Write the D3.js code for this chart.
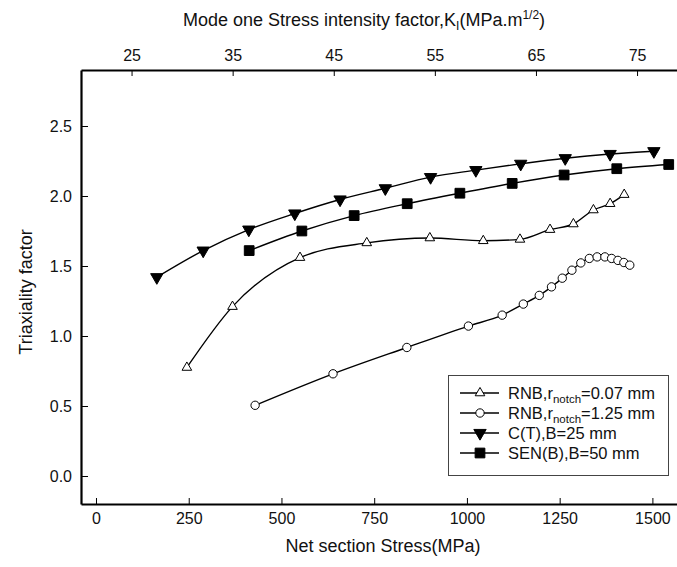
<!DOCTYPE html>
<html><head><meta charset="utf-8">
<script src="https://d3js.org/d3.v7.min.js"></script>
<style>
body{margin:0;background:#fff;}
svg{display:block;font-family:"Liberation Sans",Arial,sans-serif;}
</style></head>
<body>
<svg id="chart" width="677" height="567"></svg>
<script>
// ---- data (x: net section stress MPa, y: triaxiality factor) ----
const ctX  = [164, 289, 412, 536, 658, 780, 902, 1024, 1145, 1265, 1386, 1504];
const ctY  = [1.42, 1.61, 1.76, 1.875, 1.975, 2.055, 2.135, 2.185, 2.23, 2.27, 2.30, 2.32];
const senX = [413, 555, 696, 839, 981, 1122, 1262, 1404, 1544];
const senY = [1.61, 1.75, 1.86, 1.945, 2.02, 2.09, 2.15, 2.195, 2.225];
const r07X = [245, 368, 550, 730, 900, 1044, 1143, 1224, 1287, 1341, 1386, 1424];
const r07Y = [0.775, 1.21, 1.56, 1.665, 1.70, 1.68, 1.69, 1.76, 1.80, 1.90, 1.945, 2.01];
const r125X = [429, 639, 838, 1004, 1095, 1152, 1195, 1228, 1257, 1283, 1307, 1330, 1351, 1372, 1390, 1407, 1423, 1439];
const r125Y = [0.505, 0.73, 0.918, 1.071, 1.149, 1.228, 1.29, 1.351, 1.413, 1.47, 1.522, 1.554, 1.565, 1.565, 1.554, 1.54, 1.525, 1.506];
const xTicks = [0, 250, 500, 750, 1000, 1250, 1500];
const kTicks = [25, 35, 45, 55, 65, 75];
const yTicks = [0.0, 0.5, 1.0, 1.5, 2.0, 2.5];
const seriesNames = ["RNB,r|notch|=0.07 mm", "RNB,r|notch|=1.25 mm", "C(T),B=25 mm", "SEN(B),B=50 mm"];

const svg = d3.select("#chart");
const L = 81, R = 678, T = 70, B = 504;
const x = d3.scaleLinear().domain([-40.4, 1569]).range([L, R]);
const xk = d3.scaleLinear().domain([20, 79.05]).range([L, R]);
const y = d3.scaleLinear().domain([-0.2, 2.9]).range([B, T]);

const fs = 16;
// axes
const gx = svg.append("g").attr("transform", `translate(0,${B})`)
  .call(d3.axisBottom(x).tickValues(xTicks).tickFormat(d3.format("d")).tickSizeInner(-6).tickSizeOuter(0).tickPadding(9));
const gt = svg.append("g").attr("transform", `translate(0,${T})`)
  .call(d3.axisTop(xk).tickValues(kTicks).tickFormat(d3.format("d")).tickSizeInner(-6).tickSizeOuter(0).tickPadding(9));
const gy = svg.append("g").attr("transform", `translate(${L},0)`)
  .call(d3.axisLeft(y).tickValues(yTicks).tickFormat(d3.format(".1f")).tickSizeInner(-7).tickSizeOuter(0).tickPadding(9));
[gx, gt, gy].forEach(g => {
  g.select(".domain").attr("stroke", "#000").attr("stroke-width", 2.2);
  g.selectAll(".tick line").attr("stroke", "#000").attr("stroke-width", 1);
  g.selectAll(".tick text").attr("font-size", fs).attr("fill", "#111").attr("font-family", '"Liberation Sans",Arial,sans-serif');
});

// axis titles
svg.append("text").attr("x", 383).attr("y", 552).attr("text-anchor", "middle")
  .attr("font-size", 18).attr("fill", "#111").text("Net section Stress(MPa)");
svg.append("text").attr("transform", "translate(32,292) rotate(-90)").attr("text-anchor", "middle")
  .attr("font-size", 18).attr("fill", "#111").text("Triaxiality factor");
const tt = svg.append("text").attr("x", 364).attr("y", 26).attr("text-anchor", "middle")
  .attr("font-size", 18).attr("fill", "#111");
tt.append("tspan").text("Mode one Stress intensity factor,K");
tt.append("tspan").attr("font-size", 12).attr("dy", 4).text("I");
tt.append("tspan").attr("dy", -4).text("(MPa.m");
tt.append("tspan").attr("font-size", 12).attr("dy", -7).text("1/2");
tt.append("tspan").attr("dy", 7).text(")");

// series
const line = d3.line().x(d => x(d[0])).y(d => y(d[1])).curve(d3.curveMonotoneX);
const series = [
  {xs: r07X, ys: r07Y, sym: d3.symbolTriangle, size: 40, fill: "#fff", rot: 0},
  {xs: r125X, ys: r125Y, sym: d3.symbolCircle, size: 55, fill: "#fff", rot: 0},
  {xs: ctX, ys: ctY, sym: d3.symbolTriangle, size: 66, fill: "#000", rot: 180},
  {xs: senX, ys: senY, sym: d3.symbolSquare, size: 95, fill: "#000", rot: 0}
];
series.forEach(s => {
  const pts = s.xs.map((v, i) => [v, s.ys[i]]);
  svg.append("path").datum(pts).attr("d", line).attr("fill", "none").attr("stroke", "#000").attr("stroke-width", 1.4);
  svg.append("g").selectAll("path").data(pts).join("path")
    .attr("d", d3.symbol().type(s.sym).size(s.size))
    .attr("transform", d => `translate(${x(d[0])},${y(d[1])}) rotate(${s.rot})`)
    .attr("fill", s.fill).attr("stroke", "#000").attr("stroke-width", 1);
});

// legend
const lg = svg.append("g");
lg.append("rect").attr("x", 448.5).attr("y", 375.5).attr("width", 220).attr("height", 100)
  .attr("fill", "#fff").attr("stroke", "#444").attr("stroke-width", 1);
series.forEach((s, i) => {
  const yy = 393 + i * 20;
  lg.append("line").attr("x1", 460).attr("x2", 499).attr("y1", yy).attr("y2", yy).attr("stroke", "#000").attr("stroke-width", 1.4);
  lg.append("path").attr("d", d3.symbol().type(s.sym).size(s.size)())
    .attr("transform", `translate(480,${yy}) rotate(${s.rot})`)
    .attr("fill", s.fill).attr("stroke", "#000").attr("stroke-width", 1);
  const parts = seriesNames[i].split("|");
  const t = lg.append("text").attr("x", 508).attr("y", yy + 6).attr("font-size", 16.5).attr("fill", "#111");
  if (parts.length === 3) {
    t.append("tspan").text(parts[0]);
    t.append("tspan").attr("font-size", 11.5).attr("dy", 4).text(parts[1]);
    t.append("tspan").attr("dy", -4).text(parts[2]);
  } else {
    t.text(parts[0]);
  }
});
</script>
</body></html>
